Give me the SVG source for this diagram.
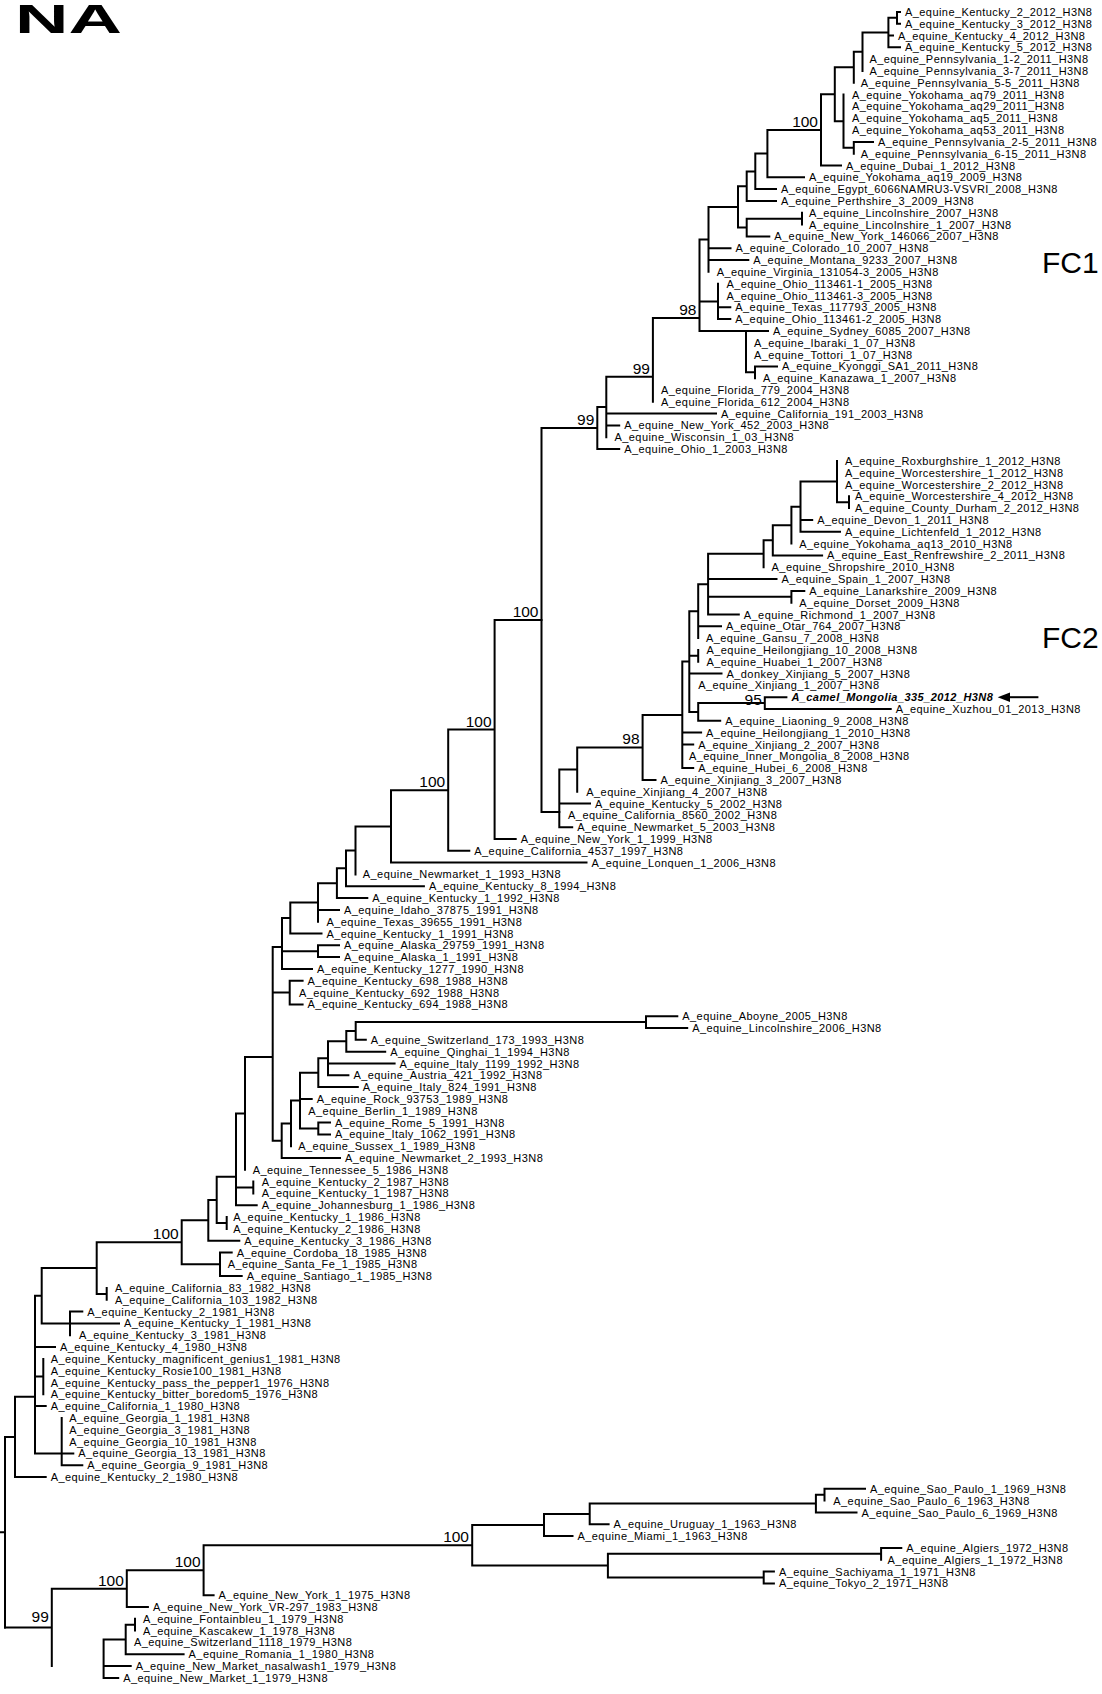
<svg xmlns="http://www.w3.org/2000/svg" width="1102" height="1694" viewBox="0 0 1102 1694">
<style>
.br path{fill:none;stroke:#000;stroke-width:2;stroke-linecap:square}
.lf{font-family:"Liberation Sans",Arial,Helvetica,sans-serif;font-size:11px;letter-spacing:0.43px;fill:#000}
.bs{font-family:"Liberation Sans",Arial,Helvetica,sans-serif;font-size:15.5px;text-anchor:end;fill:#000}
.cl{font-family:"Liberation Sans",Arial,Helvetica,sans-serif;font-size:30px;fill:#000}
.cm{font-weight:bold;font-style:italic}
</style>
<rect width="1102" height="1694" fill="#fff"/>
<text x="15" y="32.7" font-family="'Liberation Sans',Arial,sans-serif" font-size="40" font-weight="bold" textLength="107" lengthAdjust="spacingAndGlyphs">NA</text>
<g id="bootstrap">
<text class="bs" x="818" y="126.9">100</text>
<text class="bs" x="696.5" y="315">98</text>
<text class="bs" x="650" y="373.7">99</text>
<text class="bs" x="594.3" y="425">99</text>
<text class="bs" x="538.5" y="617">100</text>
<text class="bs" x="491.6" y="726.5">100</text>
<text class="bs" x="445.2" y="787">100</text>
<text class="bs" x="761.8" y="705">95</text>
<text class="bs" x="639.6" y="744.4">98</text>
<text class="bs" x="178.7" y="1239">100</text>
<text class="bs" x="469" y="1542">100</text>
<text class="bs" x="200.6" y="1567">100</text>
<text class="bs" x="123.8" y="1585.5">100</text>
<text class="bs" x="48.8" y="1622">99</text>
</g>
<g id="branches" class="br">
<path d="M897 11.9V23.7 M897 11.9H900 M897 23.7H900 M888.4 17.8V47.3 M888.4 17.8H897 M888.4 35.5H893 M888.4 47.3H900 M862.5 32.6V71 M862.5 32.6H888.4 M853.8 51.8V82.8 M853.8 51.8H862.5 M853.8 141.9V153.7 M853.8 141.9H873 M843.5 94.6V147.8 M843.5 147.8H853.8 M834.8 67.3V121.2 M834.8 67.3H853.8 M834.8 121.2H843.5 M821 94.3V165.5 M821 94.3H834.8 M821 165.5H841 M767.4 129.9V177.3 M767.4 129.9H821 M767.4 177.3H804 M755.3 153.6V189.1 M755.3 153.6H767.4 M755.3 189.1H776 M746.7 171.4V200.9 M746.7 171.4H755.3 M746.7 200.9H776 M802 212.8V224.6 M746.7 218.7V236.4 M746.7 218.7H802 M746.7 236.4H769.3 M738 186.2V227.6 M738 186.2H746.7 M738 227.6H746.7 M708.5 206.9V271.8 M708.5 206.9H738 M708.5 248.2H730.5 M708.5 260H748.3 M718 283.7V319.1 M718 307.3H730.3 M718 319.1H730.3 M755 366.4V378.2 M755 366.4H777 M746 330.9V372.3 M746 330.9H768 M746 372.3H755 M699.5 239.4V330.9 M699.5 239.4H708.5 M699.5 301.4H718 M699.5 330.9H746 M652.9 318V401.8 M652.9 318H699.5 M606.3 376.7V437.3 M606.3 376.7H652.9 M606.3 413.6H716 M606.3 425.4H619.2 M597.3 407V449.1 M597.3 407H606.3 M597.3 449.1H619.2 M541.5 428V812 M541.5 428H597.3 M541.5 812H559.3"/>
<path d="M849 496.3V508.1 M837 460.9V502.2 M837 502.2H849 M800.5 481.6V531.8 M800.5 481.6H837 M800.5 520H812.2 M800.5 531.8H840 M791.4 506.7V543.6 M791.4 506.7H800.5 M772.8 525.2V555.4 M772.8 525.2H791.4 M772.8 555.4H822.1 M763.6 540.3V567.2 M763.6 540.3H772.8 M791.4 590.9V602.7 M791.4 590.9H804.3 M708.1 553.8V614.5 M708.1 553.8H763.6 M708.1 579H776.5 M708.1 596.8H791.4 M708.1 614.5H738.8 M698.2 584.2V638.1 M698.2 584.2H708.1 M698.2 626.3H721 M698.2 649.9V661.7 M764.8 697.2V709 M764.8 697.2H786.4 M764.8 709H890.7 M698.2 703.1V720.8 M698.2 703.1H764.8 M698.2 720.8H720.2 M689.3 611.2V712 M689.3 611.2H698.2 M689.3 655.8H698.2 M689.3 673.6H721.5 M689.3 712H698.2 M682.3 661.6V768.1 M682.3 661.6H689.3 M682.3 732.6H701.1 M682.3 744.5H693.2 M682.3 768.1H693.2 M642.6 714.9V779.9 M642.6 714.9H682.3 M642.6 779.9H655.5 M577.2 747.4V791.7 M577.2 747.4H642.6 M559.3 769.6V827.2 M559.3 769.6H577.2 M559.3 803.5H590 M559.3 827.2H572.2"/>
<path d="M494.6 620V839 M494.6 620H541.5 M494.6 839H515.7 M448.2 729.5V850.8 M448.2 729.5H494.6 M448.2 850.8H469.3 M391 790.2V862.6 M391 790.2H448.2 M391 862.6H586.5 M355.5 826.4V874.4 M355.5 826.4H391 M346 850.4V886.2 M346 850.4H355.5 M346 886.2H423.9 M336.9 868.3V898.1 M336.9 868.3H346 M336.9 898.1H367.3 M318 883.2V921.7 M318 883.2H336.9 M318 909.9H339 M290.3 902.5V933.5 M290.3 902.5H318 M290.3 933.5H321.5 M318 945.3V957.1 M318 945.3H339 M318 957.1H339 M282 918V968.9 M282 918H290.3 M282 951.2H318 M282 968.9H312 M289.7 980.8V1004.4 M289.7 980.8H302.6 M289.7 1004.4H302.6 M646 1016.2V1028 M646 1016.2H677.3 M646 1028H687.2 M355.7 1022.1V1039.8 M355.7 1022.1H646 M355.7 1039.8H365.8 M346.3 1031V1051.7 M346.3 1031H355.7 M346.3 1051.7H385.2 M328 1041.3V1075.3 M328 1041.3H346.3 M328 1063.5H394.6 M328 1075.3H348.4 M318.3 1058.3V1087.1 M318.3 1058.3H328 M318.3 1087.1H357.8 M318.3 1122.5V1134.4 M318.3 1122.5H330 M318.3 1134.4H330 M300 1072.7V1128.5 M300 1072.7H318.3 M300 1098.9H311.7 M300 1128.5H318.3 M291 1100.6V1146.2 M291 1100.6H300 M281.7 1123.4V1158 M281.7 1123.4H291 M281.7 1158H340 M272.7 947V1140.7 M272.7 947H282 M272.7 992.6H289.7 M272.7 1140.7H281.7 M245 1057V1169.8 M245 1057H272.7 M253.3 1181.6V1193.4 M236 1113.4V1205.3 M236 1113.4H245 M236 1187.5H253.3 M236 1205.3H256.7 M226.7 1217.1V1228.9 M216.7 1176.7V1223 M216.7 1176.7H236 M216.7 1223H226.7 M208.3 1199.9V1240.7 M208.3 1199.9H216.7 M208.3 1240.7H239.3 M220 1252.5V1276.1 M220 1252.5H231.7 M220 1276.1H241.7 M181.7 1220.3V1264.3 M181.7 1220.3H208.3 M181.7 1264.3H220 M106.7 1288V1299.8 M96.7 1242.3V1293.9 M96.7 1242.3H181.7 M96.7 1293.9H106.7 M70 1311.6V1335.2 M70 1311.6H82.3 M70 1323.4H119 M41.7 1268.1V1323.4 M41.7 1268.1H96.7 M41.7 1323.4H70 M43.3 1358.9V1394.3 M61.7 1417.9V1465.2 M61.7 1453.4H73.3 M61.7 1465.2H82.3 M35 1295.8V1453.4 M35 1295.8H41.7 M35 1347H55 M35 1376.6H43.3 M35 1406.1H45.7 M35 1453.4H61.7 M15 1396.7V1477 M15 1396.7H35 M15 1477H45.7 M5 1436.9V1627.4 M5 1436.9H15 M0 1532.2H5"/>
<path d="M135 1618.8V1630.6 M125.7 1624.7V1654.2 M125.7 1624.7H135 M125.7 1654.2H183.6 M103.6 1639.5V1677.9 M103.6 1639.5H125.7 M103.6 1666.1H130.7 M103.6 1677.9H118.2 M824.5 1488.8V1500.6 M824.5 1488.8H865 M815.9 1494.7V1512.5 M815.9 1494.7H824.5 M815.9 1512.5H856.5 M589.7 1503.6V1524.3 M589.7 1503.6H815.9 M589.7 1524.3H608.6 M544 1514V1536.1 M544 1514H589.7 M544 1536.1H572.5 M881.1 1547.9V1559.7 M881.1 1547.9H901.3 M763.7 1571.5V1583.4 M763.7 1571.5H773.9 M763.7 1583.4H773.9 M607.9 1553.8V1577.5 M607.9 1553.8H881.1 M607.9 1577.5H763.7 M472.2 1525V1565.6 M472.2 1525H544 M472.2 1565.6H607.9 M203.6 1545.3V1595.2 M203.6 1545.3H472.2 M203.6 1595.2H213.6 M126.8 1570.3V1607 M126.8 1570.3H203.6 M126.8 1607H147.9 M51.8 1588.7V1666.1 M51.8 1588.7H126.8 M51.8 1627.4H5"/>
<path d="M1037.4 697.2H1008" stroke-width="1.8"/>
<polygon points="997.7,697.2 1010,692.4 1010,702" fill="#000" stroke="none"/>
</g>
<g id="clades">
<text class="cl" x="1042" y="273">FC1</text>
<text class="cl" x="1042" y="648">FC2</text>
</g>
<g id="leaves">
<g id="l1"><text class="lf" x="905" y="15.9">A_equine_Kentucky_2_2012_H3N8</text></g>
<g id="l2"><text class="lf" x="905" y="27.7">A_equine_Kentucky_3_2012_H3N8</text></g>
<g id="l3"><text class="lf" x="898" y="39.5">A_equine_Kentucky_4_2012_H3N8</text></g>
<g id="l4"><text class="lf" x="905" y="51.3">A_equine_Kentucky_5_2012_H3N8</text></g>
<g id="l5"><text class="lf" x="869.4" y="63.2">A_equine_Pennsylvania_1-2_2011_H3N8</text></g>
<g id="l6"><text class="lf" x="869.4" y="75">A_equine_Pennsylvania_3-7_2011_H3N8</text></g>
<g id="l7"><text class="lf" x="860.8" y="86.8">A_equine_Pennsylvania_5-5_2011_H3N8</text></g>
<g id="l8"><text class="lf" x="852" y="98.6">A_equine_Yokohama_aq79_2011_H3N8</text></g>
<g id="l9"><text class="lf" x="852" y="110.4">A_equine_Yokohama_aq29_2011_H3N8</text></g>
<g id="l10"><text class="lf" x="852" y="122.2">A_equine_Yokohama_aq5_2011_H3N8</text></g>
<g id="l11"><text class="lf" x="852" y="134.1">A_equine_Yokohama_aq53_2011_H3N8</text></g>
<g id="l12"><text class="lf" x="878" y="145.9">A_equine_Pennsylvania_2-5_2011_H3N8</text></g>
<g id="l13"><text class="lf" x="860.8" y="157.7">A_equine_Pennsylvania_6-15_2011_H3N8</text></g>
<g id="l14"><text class="lf" x="846" y="169.5">A_equine_Dubai_1_2012_H3N8</text></g>
<g id="l15"><text class="lf" x="809" y="181.3">A_equine_Yokohama_aq19_2009_H3N8</text></g>
<g id="l16"><text class="lf" x="781" y="193.1">A_equine_Egypt_6066NAMRU3-VSVRI_2008_H3N8</text></g>
<g id="l17"><text class="lf" x="781" y="204.9">A_equine_Perthshire_3_2009_H3N8</text></g>
<g id="l18"><text class="lf" x="809" y="216.8">A_equine_Lincolnshire_2007_H3N8</text></g>
<g id="l19"><text class="lf" x="809" y="228.6">A_equine_Lincolnshire_1_2007_H3N8</text></g>
<g id="l20"><text class="lf" x="774.3" y="240.4">A_equine_New_York_146066_2007_H3N8</text></g>
<g id="l21"><text class="lf" x="735.5" y="252.2">A_equine_Colorado_10_2007_H3N8</text></g>
<g id="l22"><text class="lf" x="753.3" y="264">A_equine_Montana_9233_2007_H3N8</text></g>
<g id="l23"><text class="lf" x="716.7" y="275.8">A_equine_Virginia_131054-3_2005_H3N8</text></g>
<g id="l24"><text class="lf" x="726.4" y="287.7">A_equine_Ohio_113461-1_2005_H3N8</text></g>
<g id="l25"><text class="lf" x="726.4" y="299.5">A_equine_Ohio_113461-3_2005_H3N8</text></g>
<g id="l26"><text class="lf" x="735.3" y="311.3">A_equine_Texas_117793_2005_H3N8</text></g>
<g id="l27"><text class="lf" x="735.3" y="323.1">A_equine_Ohio_113461-2_2005_H3N8</text></g>
<g id="l28"><text class="lf" x="773" y="334.9">A_equine_Sydney_6085_2007_H3N8</text></g>
<g id="l29"><text class="lf" x="754" y="346.7">A_equine_Ibaraki_1_07_H3N8</text></g>
<g id="l30"><text class="lf" x="754" y="358.5">A_equine_Tottori_1_07_H3N8</text></g>
<g id="l31"><text class="lf" x="782" y="370.4">A_equine_Kyonggi_SA1_2011_H3N8</text></g>
<g id="l32"><text class="lf" x="763" y="382.2">A_equine_Kanazawa_1_2007_H3N8</text></g>
<g id="l33"><text class="lf" x="661" y="394">A_equine_Florida_779_2004_H3N8</text></g>
<g id="l34"><text class="lf" x="661" y="405.8">A_equine_Florida_612_2004_H3N8</text></g>
<g id="l35"><text class="lf" x="721" y="417.6">A_equine_California_191_2003_H3N8</text></g>
<g id="l36"><text class="lf" x="624.2" y="429.4">A_equine_New_York_452_2003_H3N8</text></g>
<g id="l37"><text class="lf" x="614.5" y="441.3">A_equine_Wisconsin_1_03_H3N8</text></g>
<g id="l38"><text class="lf" x="624.2" y="453.1">A_equine_Ohio_1_2003_H3N8</text></g>
<g id="l39"><text class="lf" x="845" y="464.9">A_equine_Roxburghshire_1_2012_H3N8</text></g>
<g id="l40"><text class="lf" x="845" y="476.7">A_equine_Worcestershire_1_2012_H3N8</text></g>
<g id="l41"><text class="lf" x="845" y="488.5">A_equine_Worcestershire_2_2012_H3N8</text></g>
<g id="l42"><text class="lf" x="855" y="500.3">A_equine_Worcestershire_4_2012_H3N8</text></g>
<g id="l43"><text class="lf" x="855" y="512.1">A_equine_County_Durham_2_2012_H3N8</text></g>
<g id="l44"><text class="lf" x="817.2" y="524">A_equine_Devon_1_2011_H3N8</text></g>
<g id="l45"><text class="lf" x="845" y="535.8">A_equine_Lichtenfeld_1_2012_H3N8</text></g>
<g id="l46"><text class="lf" x="799.3" y="547.6">A_equine_Yokohama_aq13_2010_H3N8</text></g>
<g id="l47"><text class="lf" x="827.1" y="559.4">A_equine_East_Renfrewshire_2_2011_H3N8</text></g>
<g id="l48"><text class="lf" x="771.6" y="571.2">A_equine_Shropshire_2010_H3N8</text></g>
<g id="l49"><text class="lf" x="781.5" y="583">A_equine_Spain_1_2007_H3N8</text></g>
<g id="l50"><text class="lf" x="809.3" y="594.9">A_equine_Lanarkshire_2009_H3N8</text></g>
<g id="l51"><text class="lf" x="799.3" y="606.7">A_equine_Dorset_2009_H3N8</text></g>
<g id="l52"><text class="lf" x="743.8" y="618.5">A_equine_Richmond_1_2007_H3N8</text></g>
<g id="l53"><text class="lf" x="726" y="630.3">A_equine_Otar_764_2007_H3N8</text></g>
<g id="l54"><text class="lf" x="706" y="642.1">A_equine_Gansu_7_2008_H3N8</text></g>
<g id="l55"><text class="lf" x="706.5" y="653.9">A_equine_Heilongjiang_10_2008_H3N8</text></g>
<g id="l56"><text class="lf" x="706.5" y="665.7">A_equine_Huabei_1_2007_H3N8</text></g>
<g id="l57"><text class="lf" x="726.5" y="677.6">A_donkey_Xinjiang_5_2007_H3N8</text></g>
<g id="l58"><text class="lf" x="698.2" y="689.4">A_equine_Xinjiang_1_2007_H3N8</text></g>
<g id="l59"><text class="lf cm" x="791.4" y="701.2">A_camel_Mongolia_335_2012_H3N8</text></g>
<g id="l60"><text class="lf" x="895.7" y="713">A_equine_Xuzhou_01_2013_H3N8</text></g>
<g id="l61"><text class="lf" x="725.2" y="724.8">A_equine_Liaoning_9_2008_H3N8</text></g>
<g id="l62"><text class="lf" x="706.1" y="736.6">A_equine_Heilongjiang_1_2010_H3N8</text></g>
<g id="l63"><text class="lf" x="698.2" y="748.5">A_equine_Xinjiang_2_2007_H3N8</text></g>
<g id="l64"><text class="lf" x="689" y="760.3">A_equine_Inner_Mongolia_8_2008_H3N8</text></g>
<g id="l65"><text class="lf" x="698.2" y="772.1">A_equine_Hubei_6_2008_H3N8</text></g>
<g id="l66"><text class="lf" x="660.5" y="783.9">A_equine_Xinjiang_3_2007_H3N8</text></g>
<g id="l67"><text class="lf" x="586.3" y="795.7">A_equine_Xinjiang_4_2007_H3N8</text></g>
<g id="l68"><text class="lf" x="595" y="807.5">A_equine_Kentucky_5_2002_H3N8</text></g>
<g id="l69"><text class="lf" x="568.1" y="819.3">A_equine_California_8560_2002_H3N8</text></g>
<g id="l70"><text class="lf" x="577.2" y="831.2">A_equine_Newmarket_5_2003_H3N8</text></g>
<g id="l71"><text class="lf" x="520.7" y="843">A_equine_New_York_1_1999_H3N8</text></g>
<g id="l72"><text class="lf" x="474.3" y="854.8">A_equine_California_4537_1997_H3N8</text></g>
<g id="l73"><text class="lf" x="591.5" y="866.6">A_equine_Lonquen_1_2006_H3N8</text></g>
<g id="l74"><text class="lf" x="362.8" y="878.4">A_equine_Newmarket_1_1993_H3N8</text></g>
<g id="l75"><text class="lf" x="428.9" y="890.2">A_equine_Kentucky_8_1994_H3N8</text></g>
<g id="l76"><text class="lf" x="372.3" y="902.1">A_equine_Kentucky_1_1992_H3N8</text></g>
<g id="l77"><text class="lf" x="344" y="913.9">A_equine_Idaho_37875_1991_H3N8</text></g>
<g id="l78"><text class="lf" x="326.5" y="925.7">A_equine_Texas_39655_1991_H3N8</text></g>
<g id="l79"><text class="lf" x="326.5" y="937.5">A_equine_Kentucky_1_1991_H3N8</text></g>
<g id="l80"><text class="lf" x="344" y="949.3">A_equine_Alaska_29759_1991_H3N8</text></g>
<g id="l81"><text class="lf" x="344" y="961.1">A_equine_Alaska_1_1991_H3N8</text></g>
<g id="l82"><text class="lf" x="317" y="972.9">A_equine_Kentucky_1277_1990_H3N8</text></g>
<g id="l83"><text class="lf" x="307.6" y="984.8">A_equine_Kentucky_698_1988_H3N8</text></g>
<g id="l84"><text class="lf" x="299" y="996.6">A_equine_Kentucky_692_1988_H3N8</text></g>
<g id="l85"><text class="lf" x="307.6" y="1008.4">A_equine_Kentucky_694_1988_H3N8</text></g>
<g id="l86"><text class="lf" x="682.3" y="1020.2">A_equine_Aboyne_2005_H3N8</text></g>
<g id="l87"><text class="lf" x="692.2" y="1032">A_equine_Lincolnshire_2006_H3N8</text></g>
<g id="l88"><text class="lf" x="370.8" y="1043.8">A_equine_Switzerland_173_1993_H3N8</text></g>
<g id="l89"><text class="lf" x="390.2" y="1055.7">A_equine_Qinghai_1_1994_H3N8</text></g>
<g id="l90"><text class="lf" x="399.6" y="1067.5">A_equine_Italy_1199_1992_H3N8</text></g>
<g id="l91"><text class="lf" x="353.4" y="1079.3">A_equine_Austria_421_1992_H3N8</text></g>
<g id="l92"><text class="lf" x="362.8" y="1091.1">A_equine_Italy_824_1991_H3N8</text></g>
<g id="l93"><text class="lf" x="316.7" y="1102.9">A_equine_Rock_93753_1989_H3N8</text></g>
<g id="l94"><text class="lf" x="308.3" y="1114.7">A_equine_Berlin_1_1989_H3N8</text></g>
<g id="l95"><text class="lf" x="335" y="1126.5">A_equine_Rome_5_1991_H3N8</text></g>
<g id="l96"><text class="lf" x="335" y="1138.4">A_equine_Italy_1062_1991_H3N8</text></g>
<g id="l97"><text class="lf" x="298.3" y="1150.2">A_equine_Sussex_1_1989_H3N8</text></g>
<g id="l98"><text class="lf" x="345" y="1162">A_equine_Newmarket_2_1993_H3N8</text></g>
<g id="l99"><text class="lf" x="252.7" y="1173.8">A_equine_Tennessee_5_1986_H3N8</text></g>
<g id="l100"><text class="lf" x="261.7" y="1185.6">A_equine_Kentucky_2_1987_H3N8</text></g>
<g id="l101"><text class="lf" x="261.7" y="1197.4">A_equine_Kentucky_1_1987_H3N8</text></g>
<g id="l102"><text class="lf" x="261.7" y="1209.3">A_equine_Johannesburg_1_1986_H3N8</text></g>
<g id="l103"><text class="lf" x="233.3" y="1221.1">A_equine_Kentucky_1_1986_H3N8</text></g>
<g id="l104"><text class="lf" x="233.3" y="1232.9">A_equine_Kentucky_2_1986_H3N8</text></g>
<g id="l105"><text class="lf" x="244.3" y="1244.7">A_equine_Kentucky_3_1986_H3N8</text></g>
<g id="l106"><text class="lf" x="236.7" y="1256.5">A_equine_Cordoba_18_1985_H3N8</text></g>
<g id="l107"><text class="lf" x="227.7" y="1268.3">A_equine_Santa_Fe_1_1985_H3N8</text></g>
<g id="l108"><text class="lf" x="246.7" y="1280.1">A_equine_Santiago_1_1985_H3N8</text></g>
<g id="l109"><text class="lf" x="115" y="1292">A_equine_California_83_1982_H3N8</text></g>
<g id="l110"><text class="lf" x="115" y="1303.8">A_equine_California_103_1982_H3N8</text></g>
<g id="l111"><text class="lf" x="87.3" y="1315.6">A_equine_Kentucky_2_1981_H3N8</text></g>
<g id="l112"><text class="lf" x="124" y="1327.4">A_equine_Kentucky_1_1981_H3N8</text></g>
<g id="l113"><text class="lf" x="79" y="1339.2">A_equine_Kentucky_3_1981_H3N8</text></g>
<g id="l114"><text class="lf" x="60" y="1351">A_equine_Kentucky_4_1980_H3N8</text></g>
<g id="l115"><text class="lf" x="50.7" y="1362.9">A_equine_Kentucky_magnificent_genius1_1981_H3N8</text></g>
<g id="l116"><text class="lf" x="50.7" y="1374.7">A_equine_Kentucky_Rosie100_1981_H3N8</text></g>
<g id="l117"><text class="lf" x="50.7" y="1386.5">A_equine_Kentucky_pass_the_pepper1_1976_H3N8</text></g>
<g id="l118"><text class="lf" x="50.7" y="1398.3">A_equine_Kentucky_bitter_boredom5_1976_H3N8</text></g>
<g id="l119"><text class="lf" x="50.7" y="1410.1">A_equine_California_1_1980_H3N8</text></g>
<g id="l120"><text class="lf" x="69.3" y="1421.9">A_equine_Georgia_1_1981_H3N8</text></g>
<g id="l121"><text class="lf" x="69.3" y="1433.7">A_equine_Georgia_3_1981_H3N8</text></g>
<g id="l122"><text class="lf" x="69.3" y="1445.6">A_equine_Georgia_10_1981_H3N8</text></g>
<g id="l123"><text class="lf" x="78.3" y="1457.4">A_equine_Georgia_13_1981_H3N8</text></g>
<g id="l124"><text class="lf" x="87.3" y="1469.2">A_equine_Georgia_9_1981_H3N8</text></g>
<g id="l125"><text class="lf" x="50.7" y="1481">A_equine_Kentucky_2_1980_H3N8</text></g>
<g id="l126"><text class="lf" x="870" y="1492.8">A_equine_Sao_Paulo_1_1969_H3N8</text></g>
<g id="l127"><text class="lf" x="833.3" y="1504.6">A_equine_Sao_Paulo_6_1963_H3N8</text></g>
<g id="l128"><text class="lf" x="861.5" y="1516.5">A_equine_Sao_Paulo_6_1969_H3N8</text></g>
<g id="l129"><text class="lf" x="613.6" y="1528.3">A_equine_Uruguay_1_1963_H3N8</text></g>
<g id="l130"><text class="lf" x="577.5" y="1540.1">A_equine_Miami_1_1963_H3N8</text></g>
<g id="l131"><text class="lf" x="906.3" y="1551.9">A_equine_Algiers_1972_H3N8</text></g>
<g id="l132"><text class="lf" x="887.6" y="1563.7">A_equine_Algiers_1_1972_H3N8</text></g>
<g id="l133"><text class="lf" x="778.9" y="1575.5">A_equine_Sachiyama_1_1971_H3N8</text></g>
<g id="l134"><text class="lf" x="778.9" y="1587.4">A_equine_Tokyo_2_1971_H3N8</text></g>
<g id="l135"><text class="lf" x="218.6" y="1599.2">A_equine_New_York_1_1975_H3N8</text></g>
<g id="l136"><text class="lf" x="152.9" y="1611">A_equine_New_York_VR-297_1983_H3N8</text></g>
<g id="l137"><text class="lf" x="142.9" y="1622.8">A_equine_Fontainbleu_1_1979_H3N8</text></g>
<g id="l138"><text class="lf" x="142.9" y="1634.6">A_equine_Kascakew_1_1978_H3N8</text></g>
<g id="l139"><text class="lf" x="133.9" y="1646.4">A_equine_Switzerland_1118_1979_H3N8</text></g>
<g id="l140"><text class="lf" x="188.6" y="1658.2">A_equine_Romania_1_1980_H3N8</text></g>
<g id="l141"><text class="lf" x="135.7" y="1670.1">A_equine_New_Market_nasalwash1_1979_H3N8</text></g>
<g id="l142"><text class="lf" x="123.2" y="1681.9">A_equine_New_Market_1_1979_H3N8</text></g>
</g>
</svg>
